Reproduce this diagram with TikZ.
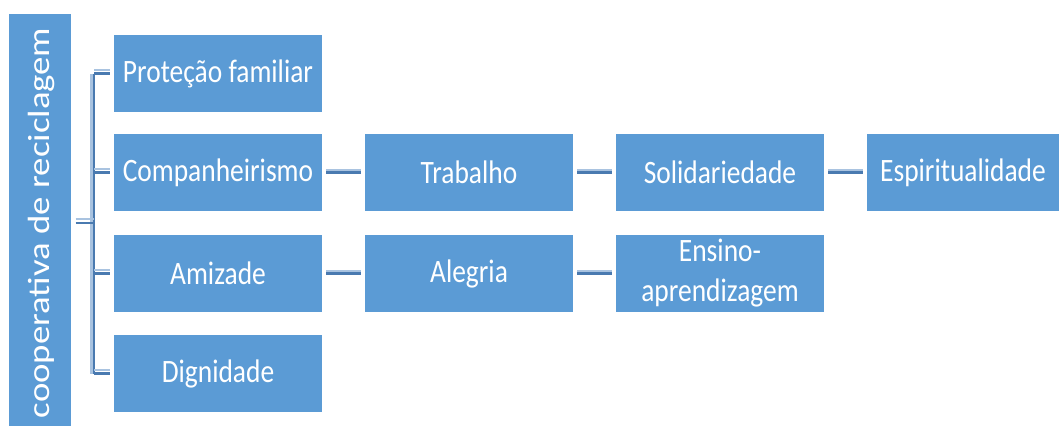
\documentclass[tikz,border=0pt]{standalone}
\usepackage{fontspec}
\setmainfont{Carlito}
\newfontfamily\boxfont[FakeStretch=0.84]{Carlito}
\newfontfamily\rootfont[FakeStretch=1.2]{Carlito}
\definecolor{boxblue}{HTML}{5B9BD5}
\definecolor{linedark}{HTML}{4A7AB0}
\definecolor{linelight}{HTML}{A9C3E0}
\begin{document}
\begin{tikzpicture}[x=0.75pt,y=-0.75pt,
  box/.style={draw=none,fill=boxblue,text=white,minimum width=156pt,minimum height=57.75pt,inner sep=0pt,font=\boxfont\fontsize{24.5}{30}\selectfont,align=center},
  conn/.style={draw=linedark,line width=1.7pt,shorten <=3pt,shorten >=3pt},
  connlight/.style={draw=linelight,line width=3.6pt,shorten <=3pt,shorten >=3pt},
  tree/.style={draw=linedark,line width=1.8pt},
  treelight/.style={draw=linelight,line width=1.8pt}]
\useasboundingbox (0,0) rectangle (1059,426);
% root
\node[fill=boxblue,minimum width=46.5pt,minimum height=309pt,inner sep=0pt,anchor=north west] (root) at (9,14) {};
\node[rotate=90,text=white,font=\rootfont\fontsize{23}{26}\selectfont] (roottxt) at ([xshift=1pt,yshift=-2pt]root.center) {cooperativa de reciclagem};
% column 1
\node[box] (p) at (218,73.5) {Proteção familiar};
\node[box] (c) at (218,172.5) {Companheirismo};
\node[box] (a) at (218,273.5) {Amizade};
\node[box] (d) at (218,373.5) {Dignidade};
% column 2
\node[box] (t) at (469,172.5) {Trabalho};
\node[box] (al) at (469,273.5) {Alegria};
% column 3
\node[box] (s) at (720,172.5) {Solidariedade};
\node[box] (e) at (720,273.5) {Ensino-\\aprendizagem};
% column 4
\node[box,minimum width=144pt] (sp) at (963,172.5) {Espiritualidade};
% tree
\coordinate (j) at (94,223);
\coordinate (jt) at (94,73.5);
\coordinate (jb) at (94,373.5);
\draw[treelight] ([xshift=-2pt]jt) -- ([xshift=-2pt]jb);
\draw[tree] (jt) -- (jb);
\draw[treelight] ([xshift=3pt,yshift=3pt]root.east |- j) -- ([yshift=3pt]j);
\draw[tree] ([xshift=3pt]root.east |- j) -- (j);
\foreach \n in {p,c,a,d}{
  \draw[treelight] ([yshift=2.5pt]jt |- \n.west) -- ([xshift=-3pt,yshift=2.5pt]\n.west);
  \draw[tree] (jt |- \n.west) -- ([xshift=-2.5pt]\n.west);
}
% chain connectors
\foreach \u/\v in {c/t,t/s,s/sp,a/al,al/e}{
  \draw[connlight] ([yshift=0.5pt]\u.east) -- ([yshift=0.5pt]\v.west);
  \draw[conn] (\u.east) -- (\v.west);
}
\end{tikzpicture}
\end{document}
